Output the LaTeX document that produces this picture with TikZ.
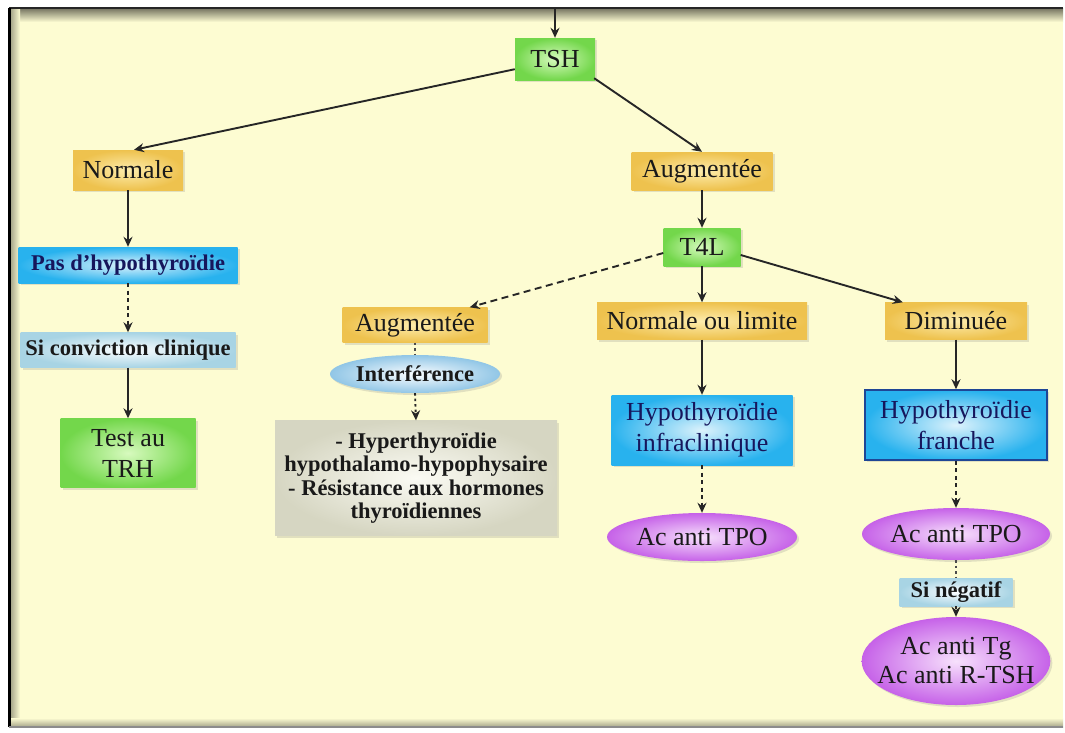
\documentclass[tikz,border=0pt]{standalone}
\usepackage{fontspec}
\setmainfont{Liberation Serif}
\usetikzlibrary{shapes.geometric,shadows,arrows.meta}
\definecolor{cream}{RGB}{253,252,210}
\definecolor{gin}{RGB}{215,250,190}
\definecolor{gout}{RGB}{115,215,75}
\definecolor{yin}{RGB}{253,236,172}
\definecolor{yout}{RGB}{238,194,78}
\definecolor{bin}{RGB}{220,242,252}
\definecolor{bout}{RGB}{40,178,238}
\definecolor{lbin}{RGB}{250,253,255}
\definecolor{lbout}{RGB}{168,212,228}
\definecolor{iin}{RGB}{250,253,255}
\definecolor{iout}{RGB}{145,198,230}
\definecolor{gyin}{RGB}{251,251,244}
\definecolor{gyout}{RGB}{214,214,194}
\definecolor{pin}{RGB}{247,225,252}
\definecolor{pout}{RGB}{198,98,232}
\definecolor{navy}{RGB}{22,22,92}
\definecolor{darkblue}{RGB}{30,70,150}
\tikzset{
  base/.style={align=center, inner sep=0pt, text=black!90,
    font=\fontsize{26}{31}\selectfont,
    drop shadow={opacity=0.22, shadow xshift=2pt, shadow yshift=-2pt}},
  boldtxt/.style={font=\bfseries\fontsize{22.5}{23.5}\selectfont},
  greenbox/.style={base, rectangle, inner color=gin, outer color=gout},
  yellowbox/.style={base, rectangle, inner color=yin, outer color=yout},
  bluebox/.style={base, rectangle, inner color=bin, outer color=bout, text=navy},
  lightbox/.style={base, boldtxt, rectangle, inner color=lbin, outer color=lbout},
  graybox/.style={base, boldtxt, rectangle, inner color=gyin, outer color=gyout},
  interf/.style={base, boldtxt, ellipse, inner xsep=-3pt, inner color=iin, outer color=iout},
  pinkell/.style={base, ellipse, inner color=pin, outer color=pout},
  arr/.style={-{Stealth[length=10pt,width=9pt]}, line width=1.9pt, draw=black!85},
  darr/.style={arr, dash pattern=on 7pt off 4.5pt},
  sdarr/.style={arr, dash pattern=on 4pt off 3.5pt},
  dotarr/.style={arr, dash pattern=on 2.5pt off 3pt},
  dotline/.style={line width=1.9pt, draw=black!70, dash pattern=on 2.5pt off 3pt}
}
\begin{document}
\begin{tikzpicture}[x=1pt,y=-1pt]
\useasboundingbox (0,0) rectangle (1065,732);
% frame
\fill[white] (0,0) rectangle (1065,732);
\fill[cream] (9,8) rectangle (1063,727);
\fill[top color=black!55!cream, bottom color=cream] (9,8) rectangle (1063,22);
\fill[left color=black!40!cream, right color=cream] (9,8) rectangle (20,727);
\fill[bottom color=black!35!cream, top color=cream] (9,718) rectangle (1063,727);
\draw[black!85, line width=1.6pt] (9,8) -- (1063,8);
\draw[black, line width=3pt] (9.5,8) -- (9.5,727);
\draw[black!45, line width=1.5pt] (9,727) -- (1063,727);
\coordinate (start) at (555,8);

% nodes
\node[greenbox, minimum width=80pt, minimum height=42pt] (tsh) at (555,59) {TSH};
\node[yellowbox, minimum width=110pt, minimum height=40pt] (norm) at (128,170) {Normale};
\node[yellowbox, minimum width=141pt, minimum height=38pt] (aug1) at (702,171) {Augmentée};
\node[greenbox, minimum width=77pt, minimum height=38pt] (t4l) at (702,247) {T4L};
\node[bluebox, boldtxt, minimum width=219pt, minimum height=36pt] (pas) at (128,265) {Pas d’hypothyroïdie};
\node[lightbox, minimum width=215pt, minimum height=35pt] (conv) at (128,350) {Si conviction clinique};
\node[greenbox, minimum width=135pt, minimum height=69pt] (trh) at (128,453) {Test au\\TRH};
\node[yellowbox, minimum width=145pt, minimum height=35pt] (aug2) at (415,325) {Augmentée};
\node[interf, minimum width=170pt, minimum height=38pt] (int) at (415,374) {Interférence};
\node[graybox, minimum width=282pt, minimum height=115pt] (res) at (416,478)
  {- Hyperthyroïdie\\hypothalamo-hypophysaire\\- Résistance aux hormones\\thyroïdiennes};
\node[yellowbox, minimum width=210pt, minimum height=37pt] (nl) at (702,321) {Normale ou limite};
\node[yellowbox, minimum width=142pt, minimum height=37pt] (dim) at (956,321) {Diminuée};
\node[bluebox, minimum width=181pt, minimum height=70pt] (hinf) at (702,430) {Hypothyroïdie\\infraclinique};
\node[bluebox, draw=darkblue, line width=1.5pt, minimum width=182pt, minimum height=70pt] (hfr) at (956,425) {Hypothyroïdie\\franche};
\node[pinkell, inner xsep=-1pt, minimum width=190pt, minimum height=48pt] (tpo1) at (702,537) {Ac anti TPO};
\node[pinkell, inner xsep=-1pt, minimum width=188pt, minimum height=52pt] (tpo2) at (956,534) {Ac anti TPO};
\node[lightbox, minimum width=113pt, minimum height=28pt] (neg) at (956,592) {Si négatif};
\node[pinkell, font=\fontsize{26}{29}\selectfont, inner xsep=-12pt, minimum width=188pt, minimum height=88pt] (tg) at (956,661) {Ac anti Tg\\Ac anti R-TSH};

% connectors
\draw[arr] (start) -- (tsh.north);
\draw[arr] ([yshift=11pt]tsh.south west) -- ([xshift=6pt]norm.north);
\draw[arr] ([xshift=-1pt,yshift=2pt]tsh.south east) -- (aug1.north);
\draw[arr] (norm.south) -- (pas.north);
\draw[sdarr] (pas.south) -- (conv.north);
\draw[arr] (conv.south) -- (trh.north);
\draw[arr] (aug1.south) -- (t4l.north);
\draw[darr] ([yshift=-6pt]t4l.west) -- ([xshift=-18pt]aug2.north east);
\draw[arr] (t4l.south) -- (nl.north);
\draw[arr] ([yshift=-8pt]t4l.east) -- ([xshift=18pt]dim.north west);
\draw[dotline] (aug2.south) -- (int.north);
\draw[dotarr] (int.south) -- (res.north);
\draw[arr] (nl.south) -- (hinf.north);
\draw[arr] (dim.south) -- (hfr.north);
\draw[sdarr] (hinf.south) -- (tpo1.north);
\draw[sdarr] (hfr.south) -- (tpo2.north);
\draw[dotline] (tpo2.south) -- (neg.north);
\draw[dotarr] (neg.south) -- (tg.north);
\end{tikzpicture}
\end{document}
